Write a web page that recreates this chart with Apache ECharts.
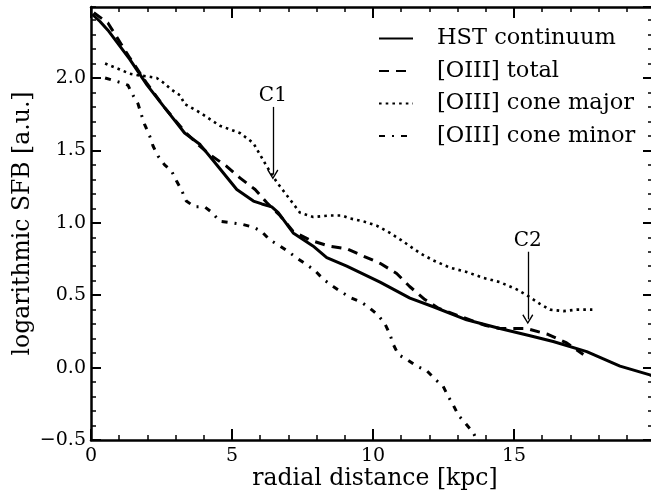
<!DOCTYPE html>
<html>
<head>
<meta charset="utf-8">
<script src="https://cdn.jsdelivr.net/npm/echarts@6/dist/echarts.min.js"></script>
<style>
  html, body { margin: 0; padding: 0; background: #fff; }
  #chart { width: 651px; height: 492px; }
</style>
</head>
<body>
<div id="chart"></div>
<script>
// Surface-brightness profiles: [radial distance (kpc), log SFB (a.u.)]
const hstContinuum = [
  [0.04, 2.44], [0.32, 2.39], [0.6, 2.33], [1.37, 2.13], [1.99, 1.95], [2.59, 1.80],
  [3.32, 1.62], [3.87, 1.54], [4.5, 1.39], [5.17, 1.23], [5.76, 1.15], [6.06, 1.13],
  [6.41, 1.11], [6.64, 1.07], [7.17, 0.93], [7.87, 0.84], [8.36, 0.76], [9.07, 0.70],
  [10.25, 0.59], [11.31, 0.48], [12.14, 0.42], [13.32, 0.33], [14.5, 0.27], [15.57, 0.22],
  [16.39, 0.18], [17.58, 0.11], [18.17, 0.06], [18.76, 0.01], [19.82, -0.05], [19.93, -0.06]
];
const oiiiTotal = [
  [0.1, 2.45], [0.6, 2.38], [1.37, 2.14], [1.99, 1.96], [2.59, 1.80], [3.32, 1.63],
  [3.8, 1.54], [4.22, 1.47], [4.81, 1.39], [5.28, 1.31], [5.82, 1.23], [6.23, 1.14],
  [6.7, 1.05], [7.17, 0.94], [7.77, 0.88], [8.42, 0.84], [9.07, 0.82], [9.66, 0.77],
  [10.25, 0.72], [10.84, 0.65], [11.3, 0.56], [11.84, 0.47], [12.32, 0.41], [13.0, 0.36],
  [14.0, 0.29], [14.5, 0.27], [14.93, 0.27], [15.45, 0.27], [16.2, 0.23], [16.87, 0.17],
  [17.46, 0.09]
];
const oiiiConeMajor = [
  [0.5, 2.10], [1.0, 2.06], [1.37, 2.03], [1.62, 2.02], [2.02, 2.01], [2.33, 2.0],
  [2.55, 1.97], [2.85, 1.92], [3.16, 1.88], [3.32, 1.82], [3.87, 1.76], [4.57, 1.67],
  [5.28, 1.62], [5.76, 1.55], [6.23, 1.39], [6.59, 1.28], [7.06, 1.16], [7.41, 1.07],
  [7.88, 1.04], [8.48, 1.05], [8.9, 1.05], [9.18, 1.03], [9.66, 1.01], [10.13, 0.98],
  [10.6, 0.93], [11.0, 0.88], [11.67, 0.79], [12.14, 0.74], [12.73, 0.69], [13.32, 0.66],
  [13.91, 0.62], [14.5, 0.59], [15.1, 0.54], [15.45, 0.50], [15.92, 0.44], [16.28, 0.40],
  [16.75, 0.39], [17.22, 0.40], [17.78, 0.40]
];
const oiiiConeMinor = [
  [0.5, 2.0], [1.02, 1.97], [1.31, 1.95], [1.49, 1.88], [1.67, 1.82], [1.78, 1.75],
  [1.90, 1.68], [2.08, 1.60], [2.20, 1.53], [2.38, 1.46], [2.61, 1.40], [2.85, 1.36],
  [3.03, 1.29], [3.20, 1.23], [3.38, 1.15], [3.68, 1.11], [4.03, 1.11], [4.3, 1.07],
  [4.57, 1.01], [4.99, 1.0], [5.34, 0.99], [5.76, 0.97], [6.05, 0.94], [6.35, 0.88],
  [6.70, 0.84], [7.0, 0.80], [7.35, 0.75], [7.65, 0.71], [7.94, 0.67], [8.24, 0.61],
  [8.59, 0.56], [8.89, 0.52], [9.24, 0.48], [9.60, 0.45], [9.89, 0.41], [10.19, 0.36],
  [10.43, 0.30], [10.60, 0.23], [10.72, 0.16], [10.90, 0.09], [11.25, 0.05], [11.55, 0.01],
  [11.90, -0.02], [12.20, -0.08], [12.49, -0.13], [12.67, -0.20], [12.85, -0.26], [13.03, -0.33],
  [13.30, -0.39], [13.56, -0.45], [13.75, -0.53]
];
const seriesNames = ['HST continuum', '[OIII] total', '[OIII] cone major', '[OIII] cone minor'];

// Knot markers: label, radius, arrow tail and head (log SFB)
const knotLabels = ['C1', 'C2'];
const knotRadius = [6.45, 15.49];
const knotArrowFrom = [1.80, 0.80];
const knotArrowTo = [1.333, 0.333];

// Axis ranges and ticks
const xRange = [0, 19.93];
const yRange = [-0.5, 2.49];
const xMajorStep = 5, xMinorStep = 1;
const yMajorStep = 0.5, yMinorStep = 0.1;

const SERIF = 'DejaVu Serif';
const INK = '#000';
const chevron = 'path://M5,0 L10,8.6 L9,9.4 L5,2.4 L1,9.4 L0,8.6 Z';

function tickAxis(pos, range, step, len, width, opts) {
  return Object.assign({
    type: 'value', position: pos, min: range[0], max: range[1], interval: step,
    axisLine: { show: false, onZero: false },
    axisTick: { show: true, inside: true, length: len, lineStyle: { color: INK, width: width } },
    axisLabel: { show: false },
    splitLine: { show: false }
  }, opts || {});
}

const fmtY = v => (v < 0 ? '\u2212' : '') + Math.abs(v).toFixed(1);
const spine = { show: true, onZero: false, lineStyle: { color: INK, width: 2.5 } };

const option = {
  animation: false,
  backgroundColor: '#fff',
  grid: {
    left: 91, right: -2, top: 7, bottom: 52,
    containLabel: false, outerBoundsMode: 'none', show: false
  },
  xAxis: [
    tickAxis('bottom', xRange, xMajorStep, 11, 2, {
      axisLine: spine,
      axisLabel: {
        show: true, showMaxLabel: false, margin: 7, color: INK,
        fontFamily: SERIF, fontSize: 19, formatter: v => String(Math.round(v))
      },
      name: 'radial distance [kpc]', nameLocation: 'middle', nameGap: 27,
      nameMoveOverlap: false,
      nameTextStyle: { fontFamily: SERIF, fontSize: 23.5, color: INK, padding: [0, 0, 0, 6] }
    }),
    tickAxis('bottom', xRange, xMinorStep, 5, 1.5),
    tickAxis('top', xRange, xMajorStep, 11, 2, { axisLine: spine }),
    tickAxis('top', xRange, xMinorStep, 5, 1.5)
  ],
  yAxis: [
    tickAxis('left', yRange, yMajorStep, 10, 2, {
      axisLine: spine,
      axisLabel: {
        show: true, showMaxLabel: false, margin: 5, color: INK,
        fontFamily: SERIF, fontSize: 19, formatter: fmtY
      },
      name: 'logarithmic SFB [a.u.]', nameLocation: 'middle', nameGap: 56,
      nameMoveOverlap: false,
      nameTextStyle: { fontFamily: SERIF, fontSize: 23.5, color: INK }
    }),
    tickAxis('left', yRange, yMinorStep, 5, 1.5),
    tickAxis('right', yRange, yMajorStep, 10, 2, { axisLine: spine }),
    tickAxis('right', yRange, yMinorStep, 5, 1.5)
  ],
  legend: {
    orient: 'vertical', left: 373, top: 22,
    itemWidth: 34, itemHeight: 14, itemGap: 9.5,
    itemStyle: { color: 'rgba(0,0,0,0)', borderWidth: 0, opacity: 0 },
    textStyle: { fontFamily: SERIF, fontSize: 22.5, color: INK, padding: [0, 0, 0, 19] },
    data: seriesNames
  },
  series: [
    {
      name: seriesNames[0], type: 'line', data: hstContinuum, symbol: 'none',
      lineStyle: { color: INK, width: 3, type: 'solid' }, itemStyle: { color: INK },
      markLine: {
        silent: true, animation: false,
        symbol: ['none', chevron], symbolSize: [11, 10],
        lineStyle: { color: INK, width: 1.3, type: 'solid' },
        label: {
          show: true, position: 'start', distance: 1, formatter: '{b}',
          fontFamily: SERIF, fontSize: 20, color: INK
        },
        emphasis: { disabled: true },
        data: knotLabels.map((lab, i) => [
          { name: lab, coord: [knotRadius[i], knotArrowFrom[i]] },
          { coord: [knotRadius[i], knotArrowTo[i]] }
        ])
      }
    },
    {
      name: seriesNames[1], type: 'line', data: oiiiTotal, symbol: 'none',
      lineStyle: { color: INK, width: 3, type: [10, 7] }, itemStyle: { color: INK }
    },
    {
      name: seriesNames[2], type: 'line', data: oiiiConeMajor, symbol: 'none',
      lineStyle: { color: INK, width: 2.6, type: [2.6, 4.1] }, itemStyle: { color: INK }
    },
    {
      name: seriesNames[3], type: 'line', data: oiiiConeMinor, symbol: 'none',
      lineStyle: { color: INK, width: 3, type: [6, 7, 2, 7] }, itemStyle: { color: INK }
    }
  ]
};

const chart = echarts.init(document.getElementById('chart'), null, { renderer: 'canvas' });
chart.setOption(option);
</script>
</body>
</html>
